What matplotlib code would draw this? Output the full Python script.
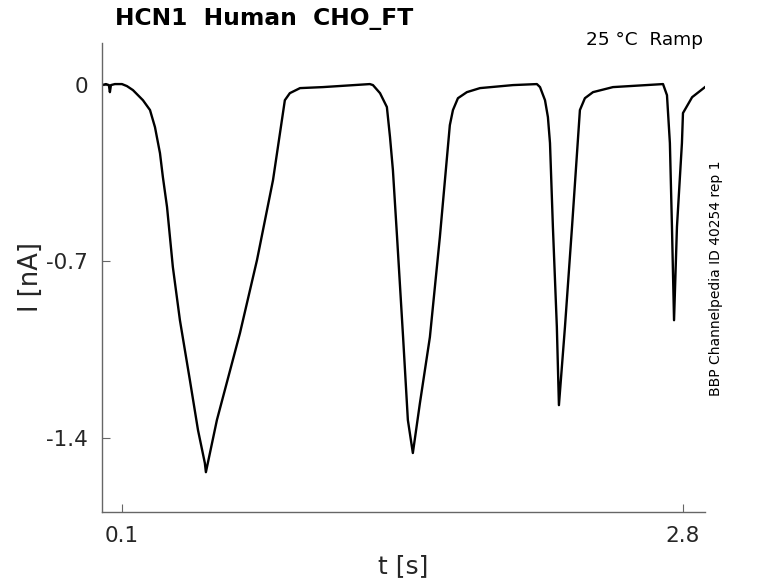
import matplotlib
matplotlib.use("Agg")
import matplotlib.pyplot as plt

# current trace (t in s, I in nA)
t = [0.004, 0.023, 0.037, 0.042, 0.047, 0.066, 0.100, 0.124, 0.153, 0.201,
     0.235, 0.259, 0.283, 0.297, 0.317, 0.345, 0.379, 0.427, 0.466, 0.499,
     0.504, 0.557, 0.668, 0.750, 0.827, 0.884, 0.908, 0.957, 1.067, 1.293,
     1.308, 1.342, 1.375, 1.390, 1.404, 1.424, 1.453, 1.476, 1.500, 1.534,
     1.582, 1.630, 1.678, 1.693, 1.717, 1.760, 1.823, 1.982, 2.097, 2.112,
     2.136, 2.150, 2.160, 2.174, 2.193, 2.203, 2.232, 2.266, 2.304, 2.328,
     2.367, 2.463, 2.704, 2.723, 2.737, 2.747, 2.757, 2.771, 2.795, 2.800,
     2.844, 2.906]
current = [0.000, 0.004, 0.000, -0.028, 0.000, 0.004, 0.004, -0.004, -0.020, -0.060,
           -0.099, -0.167, -0.270, -0.365, -0.484, -0.722, -0.933, -1.171, -1.369, -1.500,
           -1.536, -1.329, -0.984, -0.694, -0.377, -0.060, -0.032, -0.012, -0.008, 0.004,
           0.000, -0.032, -0.087, -0.206, -0.337, -0.603, -1.000, -1.329, -1.460, -1.262,
           -1.000, -0.603, -0.159, -0.099, -0.052, -0.028, -0.012, 0.000, 0.004, -0.008,
           -0.060, -0.127, -0.230, -0.563, -0.960, -1.270, -0.960, -0.563, -0.099, -0.052,
           -0.028, -0.008, 0.004, -0.040, -0.230, -0.563, -0.933, -0.563, -0.230, -0.111,
           -0.048, -0.008]

xticks = [0.1, 2.8]
xtick_labels = ["0.1", "2.8"]
yticks = [0, -0.7, -1.4]
ytick_labels = ["0", "-0.7", "-1.4"]

fig = plt.figure(figsize=(7.78, 5.83), dpi=100)
ax = fig.add_axes([102/778, 1-512/583, (705-102)/778, (512-43)/583])

ax.plot(t, current, color="black", linewidth=1.7, solid_joinstyle="round")

ax.set_xlim(0.004, 2.906)
ax.set_ylim(-1.694, 0.167)
ax.set_xticks(xticks)
ax.set_xticklabels(xtick_labels)
ax.set_yticks(yticks)
ax.set_yticklabels(ytick_labels)

for side in ["top", "right"]:
    ax.spines[side].set_visible(False)
for side in ["left", "bottom"]:
    ax.spines[side].set_color("#666666")
    ax.spines[side].set_linewidth(1.0)
ax.tick_params(direction="in", length=6, color="#666666", labelsize=15.5,
               labelcolor="#262626", pad=10)

ax.set_xlabel("t [s]", fontsize=18, color="#262626", labelpad=6)
ax.set_ylabel("I [nA]", fontsize=18.5, color="#262626", labelpad=2)

fig.text(115/778, 1-18/583, "HCN1  Human  CHO_FT", fontsize=16.8, fontweight="bold",
         ha="left", va="center")
fig.text(703/778, 1-40/583, "25 °C  Ramp", fontsize=13.3, ha="right", va="center")
fig.text(716/778, 1-278/583, "BBP Channelpedia ID 40254 rep 1", fontsize=10,
         rotation=90, ha="center", va="center")

fig.savefig("out.png", dpi=100)
